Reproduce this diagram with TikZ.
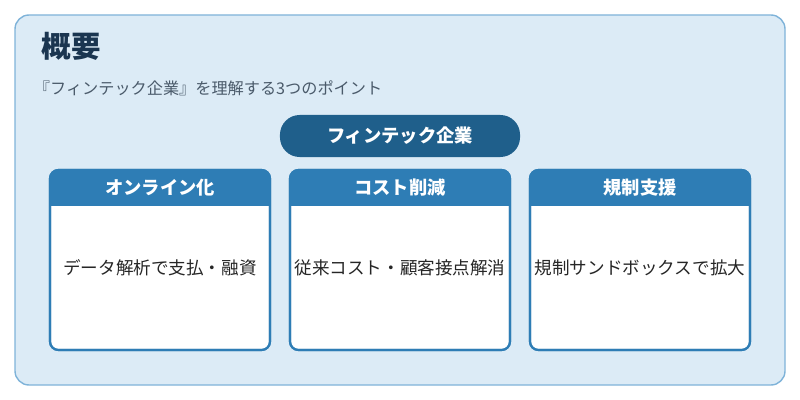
\documentclass[tikz,border=0pt]{standalone}
\usepackage{fontspec}
\setmainfont{Noto Sans CJK JP}
\usetikzlibrary{positioning}
\definecolor{panelbg}{HTML}{DCEBF6}
\definecolor{panelline}{HTML}{7FB3D9}
\definecolor{pillblue}{HTML}{1F5F8B}
\definecolor{headblue}{HTML}{2E7DB5}
\definecolor{titlecol}{HTML}{1A3550}
\definecolor{subcol}{HTML}{4A5A6A}
\tikzset{
    pill/.style={fill=pillblue, rounded corners=14pt, minimum width=6cm, minimum height=1.05cm, text=white, font=\bfseries\fontsize{13}{15}\selectfont},
    cardbody/.style={draw=headblue, line width=1.5pt, fill=white, rounded corners=6pt, minimum width=5.5cm, minimum height=4.5cm},
    cardhead/.style={text=white, font=\bfseries\fontsize{13}{15}\selectfont},
    cardtext/.style={font=\fontsize{12.5}{15}\selectfont, text=black!85}
}
\begin{document}
\begin{tikzpicture}[x=0.025cm, y=-0.025cm]
    \useasboundingbox (0,0) rectangle (800,400);
    % panel
    \draw[panelline, fill=panelbg, line width=1pt, rounded corners=10pt] (15,15) rectangle (785,385);
    \node[anchor=west, text=titlecol, font=\bfseries\fontsize{21}{24}\selectfont] (title) at (37,46) {概要};
    \node[anchor=west, text=subcol, font=\fontsize{11.5}{14}\selectfont] (sub) at (29,88) {『フィンテック企業』を理解する3つのポイント};
    \node[pill] (core) at (400,136) {フィンテック企業};
    % cards
    \foreach \cx/\head/\body/\nm in {160/オンライン化/データ解析で支払・融資/a, 400/コスト削減/従来コスト・顧客接点解消/b, 640/規制支援/規制サンドボックスで拡大/c}{
        \node[cardbody] (\nm) at (\cx,260) {};
        \begin{scope}
            \clip[rounded corners=6pt] (\cx-110,170) rectangle (\cx+110,350);
            \fill[headblue] (\cx-110,170) rectangle (\cx+110,206);
        \end{scope}
        \draw[headblue, line width=1.5pt, rounded corners=6pt] (\cx-110,170) rectangle (\cx+110,350);
        \node[cardhead] (\nm head) at (\cx,188) {\head};
        \node[cardtext] (\nm text) at (\cx,268) {\body};
    }
\end{tikzpicture}
\end{document}
